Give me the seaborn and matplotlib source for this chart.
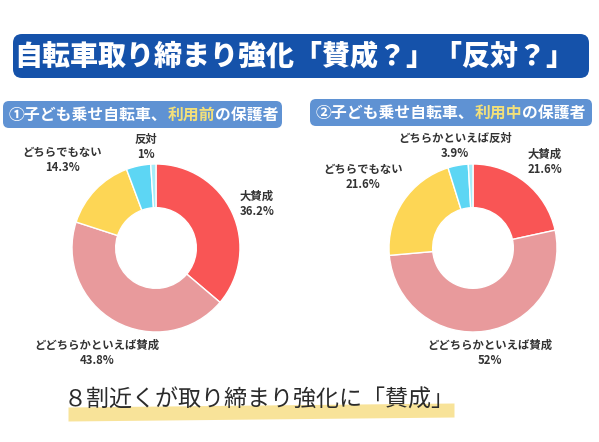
import matplotlib
matplotlib.use("Agg")
import matplotlib.pyplot as plt
from matplotlib.patches import FancyBboxPatch
import seaborn as sns

# データ
categories = ["大賛成", "どちらかといえば賛成", "どちらでもない", "どちらかといえば反対", "反対"]
before_values = [36.2, 43.8, 14.3, 4.7, 1.0]
during_values = [21.6, 52.0, 21.6, 3.9, 0.9]
slice_colors = ["#F95555", "#E89A9C", "#FDD655", "#5DD6F4", "#A6ECF8"]

title_text = "自転車取り締まり強化「賛成？」「反対？」"
sub_left = ["①子ども乗せ自転車、", "利用前", "の保護者"]
sub_right = ["②子ども乗せ自転車、", "利用中", "の保護者"]
bottom_text = "８割近くが取り締まり強化に「賛成」"

# ラベル (テキスト, 位置 px)
left_labels = [("大賛成\n36.2%", 257, 204), ("どどちらかといえば賛成\n43.8%", 97, 353),
               ("どちらでもない\n14.3%", 62, 160), ("反対\n1%", 146, 147)]
right_labels = [("大賛成\n21.6%", 545, 162), ("どどちらかといえば賛成\n52%", 490, 353),
                ("どちらでもない\n21.6%", 363, 177), ("どちらかといえば反対\n3.9%", 455, 146)]

sns.set_theme(style="white")
plt.rcParams['font.family'] = ['Noto Sans CJK JP', 'DejaVu Sans']

W, H = 599, 442
fig = plt.figure(figsize=(W / 100, H / 100), dpi=100)
fig.patch.set_facecolor("white")

bg = fig.add_axes([0, 0, 1, 1])
bg.set_xlim(0, W)
bg.set_ylim(H, 0)
bg.axis("off")

# タイトルバナー
bg.add_patch(FancyBboxPatch((13, 34), 576, 44, boxstyle="round,pad=0,rounding_size=9",
                            fc="#1552AA", ec="none"))
bg.text(W / 2 - 5, 56, title_text, color="white", fontsize=20.2, fontweight="heavy",
        ha="center", va="center")

# サブタイトル
def subtitle(x0, y0, w, parts):
    bg.add_patch(FancyBboxPatch((x0, y0), w, 27, boxstyle="round,pad=0,rounding_size=6",
                                fc="#5F92D3", ec="none"))
    x = x0 + 6
    cols = ["white", "#F3E07A", "white"]
    for p, c in zip(parts, cols):
        t = bg.text(x, y0 + 14, p, color=c, fontsize=11.4, fontweight="bold",
                    ha="left", va="center")
        fig.canvas.draw()
        bb = t.get_window_extent()
        x += bb.width

subtitle(3, 101, 279, sub_left)
subtitle(310, 99, 282, sub_right)

# ドーナツ
def donut(cx, cy, r, values):
    ax = fig.add_axes([(cx - r) / W, 1 - (cy + r) / H, 2 * r / W, 2 * r / H])
    ax.pie(values, colors=slice_colors, startangle=90, counterclock=False,
           wedgeprops=dict(width=0.52, edgecolor="white", linewidth=1.0))
    ax.set_xlim(-1, 1)
    ax.set_ylim(-1, 1)
    ax.set_aspect("equal")
    ax.axis("off")

donut(156, 248, 84, before_values)
donut(473, 248, 84, during_values)

for txt, x, y in left_labels + right_labels:
    bg.text(x, y, txt, fontsize=8.2, fontweight="bold", color="#333333",
            ha="center", va="center", linespacing=1.15)

# 下部のまとめ
bg.fill_between([68, 454], [407, 403], [421, 417], color="#F8E08E", alpha=0.9, lw=0)
bg.text(259, 400, bottom_text, fontsize=16.6, color="#2B2B2B", ha="center", va="center")

fig.savefig("out.png", dpi=100, facecolor="white")
